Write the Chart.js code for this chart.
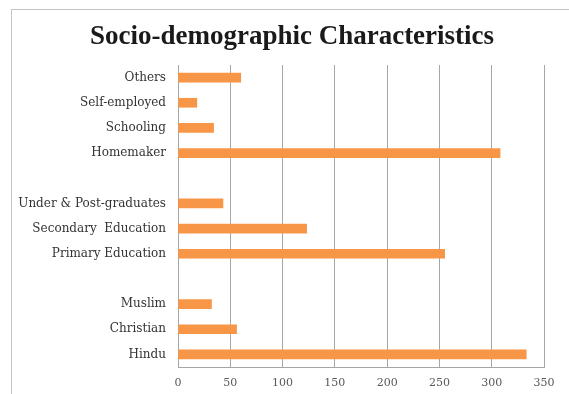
<!DOCTYPE html>
<html>
<head>
<meta charset="utf-8">
<script src="https://cdn.jsdelivr.net/npm/chart.js@4"></script>
<style>
  html, body { margin: 0; padding: 0; background: #fff; }
  #wrap { position: relative; width: 569px; height: 394px; overflow: hidden; }
  #frame { position: absolute; left: 11px; top: 9px; width: 600px; height: 420px; border: 1px solid #c4c4c4; box-sizing: border-box; }
  canvas { position: absolute; left: 0; top: 0; }
</style>
</head>
<body>
<div id="wrap">
  <div id="frame"></div>
  <canvas id="chart" width="569" height="394"></canvas>
</div>
<script>
// groups separated by blank rows, top to bottom
const categories = [
  'Others', 'Self-employed', 'Schooling', 'Homemaker',
  '',
  'Under & Post-graduates', 'Secondary  Education', 'Primary Education',
  ' ',
  'Muslim', 'Christian', 'Hindu'
];
const counts = [60, 18, 34, 308, null, 43, 123, 255, null, 32, 56, 333];
const xTicks = [0, 50, 100, 150, 200, 250, 300, 350];
const chartTitle = 'Socio-demographic Characteristics';

// title sits a bit right of the canvas centre, so draw it by hand
const titlePlugin = {
  id: 'offsetTitle',
  afterDraw(chart) {
    const { ctx } = chart;
    ctx.save();
    ctx.font = 'bold 27px "Liberation Serif"';
    ctx.fillStyle = '#1a1a1a';
    ctx.textAlign = 'center';
    ctx.textBaseline = 'middle';
    ctx.fillText(chartTitle, 292, 37);
    ctx.restore();
  },
};

const ctx = document.getElementById('chart');

new Chart(ctx, {
  type: 'bar',
  data: {
    labels: categories,
    datasets: [{
      data: counts,
      backgroundColor: '#F79646',
      barThickness: 9,
    }],
  },
  options: {
    indexAxis: 'y',
    responsive: false,
    animation: false,
    layout: { padding: { left: 15, right: 25, top: 65, bottom: 0 } },
    plugins: {
      legend: { display: false },
      tooltip: { enabled: false },
      title: { display: false },
    },
    scales: {
      x: {
        min: 0,
        max: 350,
        afterBuildTicks: (axis) => { axis.ticks = xTicks.map((v) => ({ value: v })); },
        afterFit: (axis) => { axis.height = 27; },
        ticks: {
          color: '#595959',
          font: { family: 'DejaVu Serif', size: 11 },
          padding: 10,
        },
        grid: { color: '#a6a6a6', drawTicks: false },
        border: { color: '#a6a6a6' },
      },
      y: {
        afterFit: (axis) => { axis.width = 163; },
        ticks: {
          color: '#333333',
          font: { family: 'DejaVu Serif', size: 12 },
          padding: 4,
        },
        grid: { display: false },
        border: { color: '#a6a6a6' },
      },
    },
  },
  plugins: [titlePlugin],
});
</script>
</body>
</html>
